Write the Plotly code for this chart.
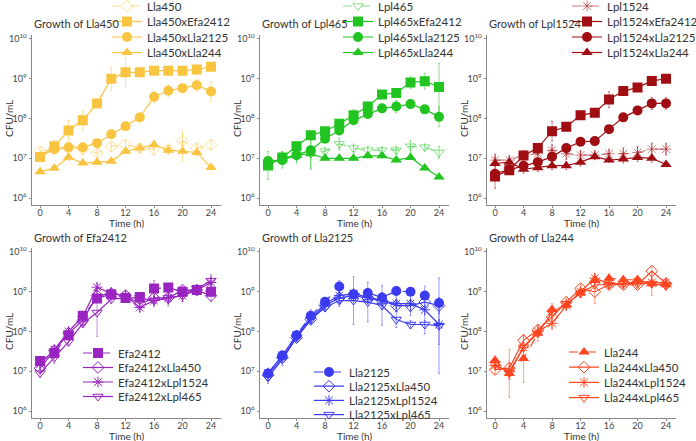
import plotly.graph_objects as go

time_h = [0, 2, 4, 6, 8, 10, 12, 14, 16, 18, 20, 22, 24]

# CFU/mL means per series
lla450 = [1.5e7, 1.7e7, 1.8e7, 1.7e7, 1.35e7, 2.0e7, 2.2e7, 1.8e7, 1.7e7, 1.7e7, 2.7e7, 1.8e7, 2.2e7]
lla450_efa2412 = [1.07e7, 2.0e7, 5.0e7, 9.0e7, 2.4e8, 1.0e9, 1.45e9, 1.45e9, 1.6e9, 1.6e9, 1.6e9, 1.7e9, 2.0e9]
lla450_lla2125 = [1.1e7, 1.7e7, 1.9e7, 1.9e7, 2.4e7, 4.0e7, 6.4e7, 1.07e8, 3.5e8, 5.0e8, 5.8e8, 6.9e8, 4.8e8]
lla450_lla244 = [4.6e6, 5.6e6, 1.06e7, 7.6e6, 8.0e6, 8.4e6, 1.5e7, 1.8e7, 2.2e7, 1.6e7, 1.5e7, 1.4e7, 5.9e6]

lpl465 = [8.0e6, 1.0e7, 1.2e7, 1.3e7, 1.5e7, 2.3e7, 1.8e7, 1.6e7, 1.6e7, 1.6e7, 2.0e7, 1.9e7, 1.4e7]
lpl465_efa2412 = [6.6e6, 1.05e7, 2.0e7, 3.8e7, 4.8e7, 7.4e7, 1.2e8, 2.0e8, 4.0e8, 4.4e8, 8.1e8, 8.7e8, 6.2e8]
lpl465_lla2125 = [8.5e6, 9.0e6, 1.2e7, 1.6e7, 3.1e7, 5.0e7, 9.0e7, 1.3e8, 1.8e8, 2.0e8, 2.3e8, 1.7e8, 1.1e8]
lpl465_lla244 = [7.0e6, 1.0e7, 1.2e7, 1.3e7, 1.0e7, 1.0e7, 1.0e7, 1.15e7, 1.15e7, 9.0e6, 1.05e7, 5.7e6, 3.4e6]

lpl1524 = [9.0e6, 9.0e6, 1.2e7, 1.3e7, 1.6e7, 1.3e7, 1.2e7, 1.2e7, 1.3e7, 1.3e7, 1.4e7, 1.7e7, 1.7e7]
lpl1524_efa2412 = [3.5e6, 5.0e6, 1.17e7, 1.8e7, 4.8e7, 6.2e7, 1.2e8, 1.4e8, 3.0e8, 4.9e8, 6.0e8, 8.8e8, 1.0e9]
lpl1524_lla2125 = [4.1e6, 5.2e6, 6.5e6, 8.0e6, 1.1e7, 1.8e7, 2.6e7, 2.7e7, 5.4e7, 1.07e8, 1.6e8, 2.4e8, 2.4e8]
lpl1524_lla244 = [7.4e6, 8.0e6, 5.3e6, 5.8e6, 6.5e6, 6.5e6, 8.0e6, 1.1e7, 9.0e6, 9.6e6, 1.05e7, 1.0e7, 7.0e6]

efa2412 = [1.8e7, 2.9e7, 8.1e7, 2.5e8, 6.8e8, 8.7e8, 7.0e8, 7.4e8, 1.2e9, 1.27e9, 1.0e9, 1.1e9, 1.0e9]
efa2412_lla450 = [1.2e7, 3.3e7, 9.0e7, 1.9e8, 8.0e8, 9.0e8, 8.0e8, 5.0e8, 7.0e8, 7.0e8, 1.1e9, 1.1e9, 8.0e8]
efa2412_lpl1524 = [1.5e7, 3.5e7, 1.0e8, 2.4e8, 1.3e9, 9.0e8, 8.0e8, 4.0e8, 6.0e8, 7.0e8, 8.0e8, 1.1e9, 1.7e9]
efa2412_lpl465 = [9.0e6, 2.2e7, 5.5e7, 1.6e8, 3.0e8, 6.5e8, 7.0e8, 7.0e8, 6.0e8, 7.0e8, 8.0e8, 1.2e9, 1.9e9]

lla2125 = [8.8e6, 2.5e7, 8.1e7, 2.5e8, 5.6e8, 1.35e9, 8.7e8, 9.3e8, 7.2e8, 1.04e9, 1.0e9, 8.0e8, 5.2e8]
lla2125_lla450 = [8.0e6, 2.2e7, 7.0e7, 2.0e8, 4.5e8, 7.0e8, 8.0e8, 7.0e8, 6.0e8, 4.5e8, 4.5e8, 5.5e8, 4.5e8]
lla2125_lpl1524 = [9.0e6, 2.5e7, 8.0e7, 2.2e8, 5.0e8, 8.0e8, 9.0e8, 7.5e8, 6.0e8, 5.0e8, 5.0e8, 3.5e8, 1.5e8]
lla2125_lpl465 = [7.0e6, 2.0e7, 7.0e7, 2.0e8, 4.0e8, 6.0e8, 6.0e8, 5.5e8, 4.5e8, 2.0e8, 1.5e8, 1.5e8, 1.4e8]

lla244 = [1.9e7, 8.8e6, 2.1e7, 9.0e7, 3.6e8, 4.6e8, 9.3e8, 2.0e9, 2.2e9, 2.0e9, 2.0e9, 1.6e9, 1.5e9]
lla244_lla450 = [1.1e7, 1.2e7, 6.0e7, 1.1e8, 2.3e8, 5.5e8, 1.2e9, 1.0e9, 1.5e9, 1.5e9, 1.5e9, 3.3e9, 1.6e9]
lla244_lpl1524 = [1.4e7, 1.0e7, 4.0e7, 1.0e8, 1.6e8, 4.5e8, 1.0e9, 2.2e9, 1.6e9, 1.6e9, 1.8e9, 1.7e9, 1.7e9]
lla244_lpl465 = [1.5e7, 9.0e6, 4.0e7, 9.0e7, 3.0e8, 5.0e8, 9.0e8, 1.5e9, 1.5e9, 1.6e9, 1.6e9, 1.6e9, 1.4e9]

# error bar half-widths, in decades (log10 units)
err_lla450 = [0.1, 0.1, 0.1, 0.1, 0.1, 0.1, 0.1, 0.1, 0.15, 0.1, 0.25, 0.1, 0.1]
err_lla450_efa2412 = [0.05, 0.15, 0.25, 0.25, 0.1, 0.3, 0.35, 0.1, 0.05, 0.05, 0.05, 0.05, 0.05]
err_lla450_lla2125 = [0.05, 0.05, 0.05, 0.05, 0.05, 0.05, 0.05, 0.05, 0.15, 0.15, 0.05, 0.15, 0.25]
err_lla450_lla244 = [0.05, 0.05, 0.08, 0.05, 0.05, 0.05, 0.05, 0.1, 0.1, 0.1, 0.25, 0.1, 0.05]
err_lpl465 = [0.1, 0.1, 0.1, 0.1, 0.1, 0.15, 0.1, 0.1, 0.08, 0.1, 0.15, 0.08, 0.15]
err_lpl465_efa2412 = [0.35, 0.15, 0.1, 0.05, 0.1, 0.1, 0.15, 0.05, 0.05, 0.05, 0.15, 0.2, 0.6]
err_lpl465_lla2125 = [0.05, 0.2, 0.15, 0.45, 0.1, 0.1, 0.1, 0.1, 0.1, 0.15, 0.05, 0.05, 0.25]
err_lpl465_lla244 = [0.1, 0.1, 0.2, 0.4, 0.05, 0.05, 0.05, 0.05, 0.05, 0.05, 0.05, 0.05, 0.05]
err_lpl1524 = [0.15, 0.1, 0.1, 0.1, 0.15, 0.15, 0.1, 0.1, 0.1, 0.15, 0.15, 0.15, 0.15]
err_lpl1524_efa2412 = [0.3, 0.1, 0.1, 0.05, 0.25, 0.05, 0.05, 0.1, 0.2, 0.05, 0.05, 0.05, 0.05]
err_lpl1524_lla2125 = [0.1, 0.1, 0.1, 0.1, 0.1, 0.05, 0.05, 0.05, 0.05, 0.05, 0.05, 0.15, 0.15]
err_lpl1524_lla244 = [0.15, 0.1, 0.1, 0.1, 0.1, 0.1, 0.1, 0.05, 0.05, 0.1, 0.1, 0.1, 0.05]
err_efa2412 = [0.05, 0.1, 0.1, 0.1, 0.1, 0.1, 0.1, 0.1, 0.2, 0.1, 0.1, 0.1, 0.1]
err_efa2412_lla450 = [0.1, 0.1, 0.1, 0.1, 0.1, 0.1, 0.1, 0.15, 0.15, 0.1, 0.1, 0.1, 0.15]
err_efa2412_lpl1524 = [0.1, 0.1, 0.1, 0.1, 0.1, 0.15, 0.1, 0.1, 0.1, 0.15, 0.15, 0.1, 0.15]
err_efa2412_lpl465 = [0.1, 0.15, 0.1, 0.1, 0.6, 0.1, 0.1, 0.1, 0.15, 0.2, 0.15, 0.1, 0.15]
err_lla2125 = [0.05, 0.1, 0.1, 0.15, 0.1, 0.15, 0.1, 0.1, 0.1, 0.1, 0.1, 0.1, 0.1]
err_lla2125_lla450 = [0.1, 0.1, 0.1, 0.1, 0.1, 0.1, 0.1, 0.1, 0.1, 0.15, 0.15, 0.2, 0.2]
err_lla2125_lpl1524 = [0.1, 0.1, 0.1, 0.1, 0.1, 0.1, 0.1, 0.15, 0.2, 0.2, 0.3, 0.6, 0.5]
err_lla2125_lpl465 = [0.15, 0.15, 0.1, 0.1, 0.1, 0.15, 0.6, 0.5, 0.5, 0.2, 0.1, 0.1, 1.2]
err_lla244 = [0.1, 0.6, 0.6, 0.1, 0.15, 0.1, 0.1, 0.1, 0.1, 0.1, 0.1, 0.3, 0.1]
err_lla244_lla450 = [0.1, 0.15, 0.1, 0.1, 0.1, 0.1, 0.1, 0.3, 0.1, 0.1, 0.1, 0.1, 0.1]
err_lla244_lpl1524 = [0.1, 0.2, 0.1, 0.1, 0.15, 0.1, 0.1, 0.1, 0.1, 0.1, 0.1, 0.1, 0.1]
err_lla244_lpl465 = [0.1, 0.15, 0.1, 0.2, 0.1, 0.1, 0.1, 0.1, 0.1, 0.1, 0.1, 0.1, 0.1]

y_tickvals = [1e6, 1e7, 1e8, 1e9, 1e10]
y_ticktext = ["10<sup>6</sup>", "10<sup>7</sup>", "10<sup>8</sup>", "10<sup>9</sup>", "10<sup>10</sup>"]
x_tickvals = [0, 4, 8, 12, 16, 20, 24]

SYMBOL = {
    "Lla450": "diamond-open",
    "Lpl465": "triangle-down-open",
    "Lpl1524": "asterisk-open",
    "Efa2412": "square",
    "Lla2125": "circle",
    "Lla244": "triangle-up",
}

panels = [
    ("Lla450", "249,196,64", [
        ("Lla450", lla450, err_lla450),
        ("Lla450xEfa2412", lla450_efa2412, err_lla450_efa2412),
        ("Lla450xLla2125", lla450_lla2125, err_lla450_lla2125),
        ("Lla450xLla244", lla450_lla244, err_lla450_lla244)]),
    ("Lpl465", "33,196,33", [
        ("Lpl465", lpl465, err_lpl465),
        ("Lpl465xEfa2412", lpl465_efa2412, err_lpl465_efa2412),
        ("Lpl465xLla2125", lpl465_lla2125, err_lpl465_lla2125),
        ("Lpl465xLla244", lpl465_lla244, err_lpl465_lla244)]),
    ("Lpl1524", "160,13,18", [
        ("Lpl1524", lpl1524, err_lpl1524),
        ("Lpl1524xEfa2412", lpl1524_efa2412, err_lpl1524_efa2412),
        ("Lpl1524xLla2125", lpl1524_lla2125, err_lpl1524_lla2125),
        ("Lpl1524xLla244", lpl1524_lla244, err_lpl1524_lla244)]),
    ("Efa2412", "153,37,192", [
        ("Efa2412", efa2412, err_efa2412),
        ("Efa2412xLla450", efa2412_lla450, err_efa2412_lla450),
        ("Efa2412xLpl1524", efa2412_lpl1524, err_efa2412_lpl1524),
        ("Efa2412xLpl465", efa2412_lpl465, err_efa2412_lpl465)]),
    ("Lla2125", "59,59,240", [
        ("Lla2125", lla2125, err_lla2125),
        ("Lla2125xLla450", lla2125_lla450, err_lla2125_lla450),
        ("Lla2125xLpl1524", lla2125_lpl1524, err_lla2125_lpl1524),
        ("Lla2125xLpl465", lla2125_lpl465, err_lla2125_lpl465)]),
    ("Lla244", "255,69,33", [
        ("Lla244", lla244, err_lla244),
        ("Lla244xLla450", lla244_lla450, err_lla244_lla450),
        ("Lla244xLpl1524", lla244_lpl1524, err_lla244_lpl1524),
        ("Lla244xLpl465", lla244_lpl465, err_lla244_lpl465)]),
]

W, H = 696, 441
FONT = "Lato"
# pixel layout of each panel: x of the left axis, top and bottom of the plot area
col_left = [31.5, 259.5, 486.5]
col_width = 189.5
row_top = [35, 248]
row_bottom = [205.2, 418.2]
# legend text start (x) and centre of first item (y), item step, in pixels
legend_pos = [(147, 6, 15.5), (378, 6, 15.5), (607, 6, 15.5),
              (118, 353, 14.5), (349, 372, 14.2), (604, 352, 15.2)]
LEGEND_TEXT_OFFSET = 40

fig = go.Figure()
axis_font = dict(family=FONT, size=9, color="#444")

for i, (strain, rgb, series) in enumerate(panels):
    row, col = divmod(i, 3)
    n = i + 1
    xname = "x" if n == 1 else f"x{n}"
    yname = "y" if n == 1 else f"y{n}"
    top_row = row == 0
    lx, ly, lstep = legend_pos[i]

    for j, (name, vals, err) in enumerate(series):
        k = i * 4 + j + 1
        legend_name = "legend" if k == 1 else f"legend{k}"
        mono = j == 0
        symbol = SYMBOL[name.split("x")[-1]]
        alpha = 0.55 if (mono and top_row) else 1.0
        color = f"rgba({rgb},{alpha})"
        filled = not symbol.endswith("open")
        size = 10 if filled else 9
        fig.add_trace(go.Scatter(
            x=time_h, y=vals, name=name, showlegend=True,
            xaxis=xname, yaxis=yname, legend=legend_name,
            mode="lines+markers",
            line=dict(color=color, width=1.2, dash="dash" if mono else "solid"),
            marker=dict(symbol=symbol, size=size, color=color,
                        line=dict(color=color, width=1 if not filled else 0)),
            error_y=dict(
                type="data", symmetric=False,
                array=[v * (10 ** e - 1) for v, e in zip(vals, err)],
                arrayminus=[v * (1 - 10 ** -e) for v, e in zip(vals, err)],
                color=f"rgba({rgb},0.5)", thickness=1, width=1,
            ),
        ))
        # one legend per entry so the row spacing can follow the picture
        fig.layout[legend_name] = dict(
            x=(lx - LEGEND_TEXT_OFFSET) / W, y=1 - (ly + j * lstep) / H,
            xanchor="left", yanchor="middle",
            xref="paper", yref="paper", bgcolor="rgba(0,0,0,0)",
            font=dict(family=FONT, size=11.5, color="#333"),
            tracegroupgap=0, itemwidth=30,
        )

    x0 = col_left[col] / W
    x1 = (col_left[col] + col_width) / W
    y0 = (H - row_bottom[row]) / H
    y1 = (H - row_top[row]) / H
    fig.layout[f"xaxis{'' if n == 1 else n}"] = dict(
        domain=[x0, x1], anchor=yname, range=[-1.2, 25.4],
        tickvals=x_tickvals, ticks="outside", ticklen=2, tickcolor="#888",
        ticklabelstandoff=-3,
        showline=True, linecolor="#888", linewidth=1, showgrid=False,
        zeroline=False, tickfont=axis_font,
    )
    fig.layout[f"yaxis{'' if n == 1 else n}"] = dict(
        domain=[y0, y1], anchor=xname, type="log", range=[5.82, 10.1],
        tickvals=y_tickvals, ticktext=y_ticktext, ticks="outside", ticklen=2,
        tickcolor="#888", showline=True, linecolor="#888", linewidth=1,
        showgrid=False, zeroline=False, tickfont=axis_font,
    )

    # panel title and axis titles
    fig.add_annotation(
        text=f"Growth of {strain}", xref="paper", yref="paper",
        x=col_left[col] / W, y=1 - (row_top[row] - 11) / H,
        xanchor="left", yanchor="middle", showarrow=False,
        font=dict(family=FONT, size=11, color="#333"),
    )
    fig.add_annotation(
        text="CFU/mL", xref="paper", yref="paper", textangle=-90,
        x=(col_left[col] - 22) / W,
        y=1 - (row_top[row] + (row_bottom[row] - row_top[row]) * 0.49) / H,
        xanchor="center", yanchor="middle", showarrow=False,
        font=dict(family=FONT, size=10, color="#333"),
    )
    fig.add_annotation(
        text="Time (h)", xref="paper", yref="paper",
        x=(col_left[col] + 9.5 + 12 * 7.125) / W,
        y=1 - (row_bottom[row] + 18) / H,
        xanchor="center", yanchor="middle", showarrow=False,
        font=dict(family=FONT, size=10, color="#333"),
    )

fig.update_layout(
    width=W, height=H, margin=dict(l=0, r=0, t=0, b=0, autoexpand=False),
    plot_bgcolor="white", paper_bgcolor="white",
    font=dict(family=FONT), showlegend=True,
)

# the page body has a default 8px margin; drop it so the figure fills the window
fig.write_html(
    "out.html",
    config={"displayModeBar": False},
    post_script="document.body.style.margin = '0';",
)
